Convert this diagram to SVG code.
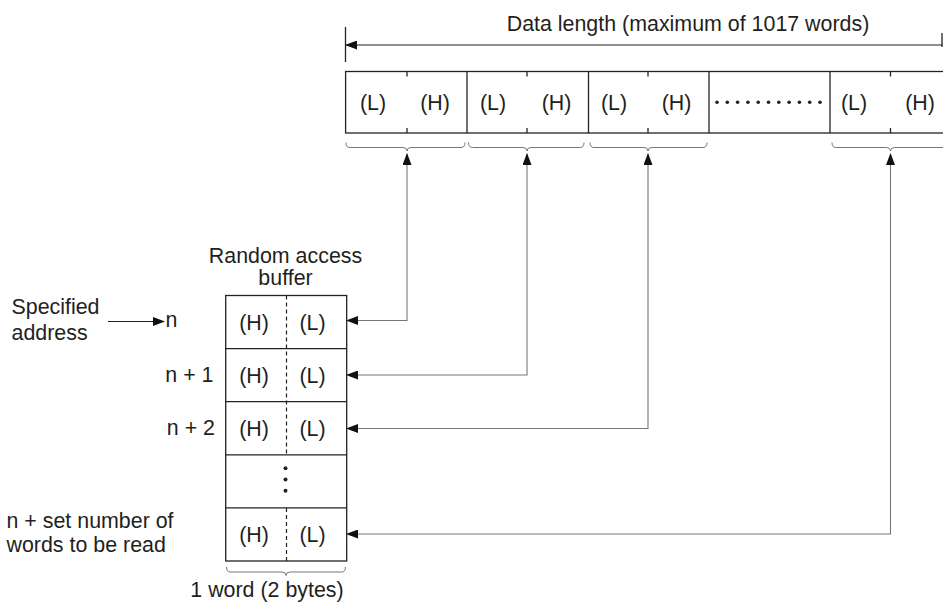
<svg xmlns="http://www.w3.org/2000/svg" width="943" height="605" viewBox="0 0 943 605">
<defs>
<marker id="ah" markerUnits="userSpaceOnUse" markerWidth="12" markerHeight="9" refX="11" refY="4.5" orient="auto-start-reverse" viewBox="0 0 12 9">
<path d="M0,0 L12,4.5 L0,9 z" fill="#111"/>
</marker>
</defs>
<style>
text{font-family:"Liberation Sans",Arial,sans-serif;font-size:21.4px;fill:#231f20}
.m{text-anchor:middle}
.e{text-anchor:end}
.box{fill:#fff;stroke:#222;stroke-width:1.3}
.ln{stroke:#222;stroke-width:1.3;fill:none}
.br{stroke:#777;stroke-width:1;fill:none}
.cn{stroke:#777;stroke-width:1.1;fill:none}
.dot{fill:#222}
</style>
<g id="dimension">
<line class="ln" x1="345.5" y1="27" x2="345.5" y2="62"/>
<line x1="346" y1="45" x2="943" y2="45" stroke="#222" stroke-width="1.2" marker-start="url(#ah)"/>
<line class="ln" x1="942" y1="33" x2="942" y2="47"/>
<text class="m" x="688" y="31">Data length (maximum of 1017 words)</text>
</g>
<g id="data-bar">
<rect class="box" x="345.6" y="71.5" width="610" height="61.5"/>
<line class="ln" x1="467" y1="71.5" x2="467" y2="133"/>
<line class="ln" x1="588.5" y1="71.5" x2="588.5" y2="133"/>
<line class="ln" x1="709" y1="71.5" x2="709" y2="133"/>
<line class="ln" x1="830" y1="71.5" x2="830" y2="133"/>
<g class="ln">
<path d="M407,71.5v5M407,133v-5M527,71.5v5M527,133v-5M648,71.5v5M648,133v-5M890.5,71.5v5M890.5,133v-5"/>
</g>
<text class="m" x="373" y="110">(L)</text>
<text class="m" x="435" y="110">(H)</text>
<text class="m" x="493" y="110">(L)</text>
<text class="m" x="556.5" y="110">(H)</text>
<text class="m" x="614" y="110">(L)</text>
<text class="m" x="676.5" y="110">(H)</text>
<text class="m" x="854" y="110">(L)</text>
<text class="m" x="920" y="110">(H)</text>
<g class="dot">
<circle cx="717" cy="102.3" r="1.8"/><circle cx="727.3" cy="102.3" r="1.8"/><circle cx="737.6" cy="102.3" r="1.8"/><circle cx="747.9" cy="102.3" r="1.8"/><circle cx="758.2" cy="102.3" r="1.8"/><circle cx="768.5" cy="102.3" r="1.8"/><circle cx="778.8" cy="102.3" r="1.8"/><circle cx="789.1" cy="102.3" r="1.8"/><circle cx="799.4" cy="102.3" r="1.8"/><circle cx="809.7" cy="102.3" r="1.8"/><circle cx="820" cy="102.3" r="1.8"/>
</g>
<path class="br" d="M346,142.5q0,5 4,5H403q4,0 4,3.5q0,-3.5 4,-3.5H461q4,0 4,-5"/>
<path class="br" d="M468.5,142.5q0,5 4,5H523q4,0 4,3.5q0,-3.5 4,-3.5H580q4,0 4,-5"/>
<path class="br" d="M590,142.5q0,5 4,5H644q4,0 4,3.5q0,-3.5 4,-3.5H703q4,0 4,-5"/>
<path class="br" d="M832,142.5q0,5 4,5H886.5q4,0 4,3.5q0,-3.5 4,-3.5H945q4,0 4,-5"/>
</g>
<g id="buffer">
<text class="m" x="285.5" y="263">Random access</text>
<text class="m" x="285.5" y="285">buffer</text>
<rect class="box" x="225.7" y="295.5" width="121" height="265.5"/>
<path class="ln" d="M225.7,348.6H346.7M225.7,401.7H346.7M225.7,454.8H346.7M225.7,507.9H346.7"/>
<path d="M286.5,295.5V454.8M286.5,507.9V561" stroke="#222" stroke-width="1.2" stroke-dasharray="4,3"/>
<text class="m" x="254" y="329.5">(H)</text><text class="m" x="312.5" y="329.5">(L)</text>
<text class="m" x="254" y="382.5">(H)</text><text class="m" x="312.5" y="382.5">(L)</text>
<text class="m" x="254" y="435.5">(H)</text><text class="m" x="312.5" y="435.5">(L)</text>
<text class="m" x="254" y="541.5">(H)</text><text class="m" x="312.5" y="541.5">(L)</text>
<g class="dot"><circle cx="285.5" cy="468.3" r="2"/><circle cx="285.5" cy="479.5" r="2"/><circle cx="285.5" cy="490.7" r="2"/></g>
<path class="br" d="M226.5,567q0,5 4,5H282q4,0 4,3.5q0,-3.5 4,-3.5H341.5q4,0 4,-5"/>
<text class="m" x="267" y="597">1 word (2 bytes)</text>
</g>
<g id="labels">
<text x="11.5" y="314">Specified</text>
<text x="11.5" y="340">address</text>
<line x1="108" y1="321.5" x2="164" y2="321.5" stroke="#222" stroke-width="1.2" marker-end="url(#ah)"/>
<text x="165.5" y="327">n</text>
<text class="e" x="213.5" y="382">n + 1</text>
<text class="e" x="215" y="435">n + 2</text>
<text x="6.5" y="528">n + set number of</text>
<text x="6.5" y="552">words to be read</text>
</g>
<g id="connectors">
<path class="cn" d="M347,320.5H407V154" marker-start="url(#ah)" marker-end="url(#ah)"/>
<path class="cn" d="M347,375H527V154" marker-start="url(#ah)" marker-end="url(#ah)"/>
<path class="cn" d="M347,428.5H648V154" marker-start="url(#ah)" marker-end="url(#ah)"/>
<path class="cn" d="M347,534H890.5V154" marker-start="url(#ah)" marker-end="url(#ah)"/>
</g>
</svg>
